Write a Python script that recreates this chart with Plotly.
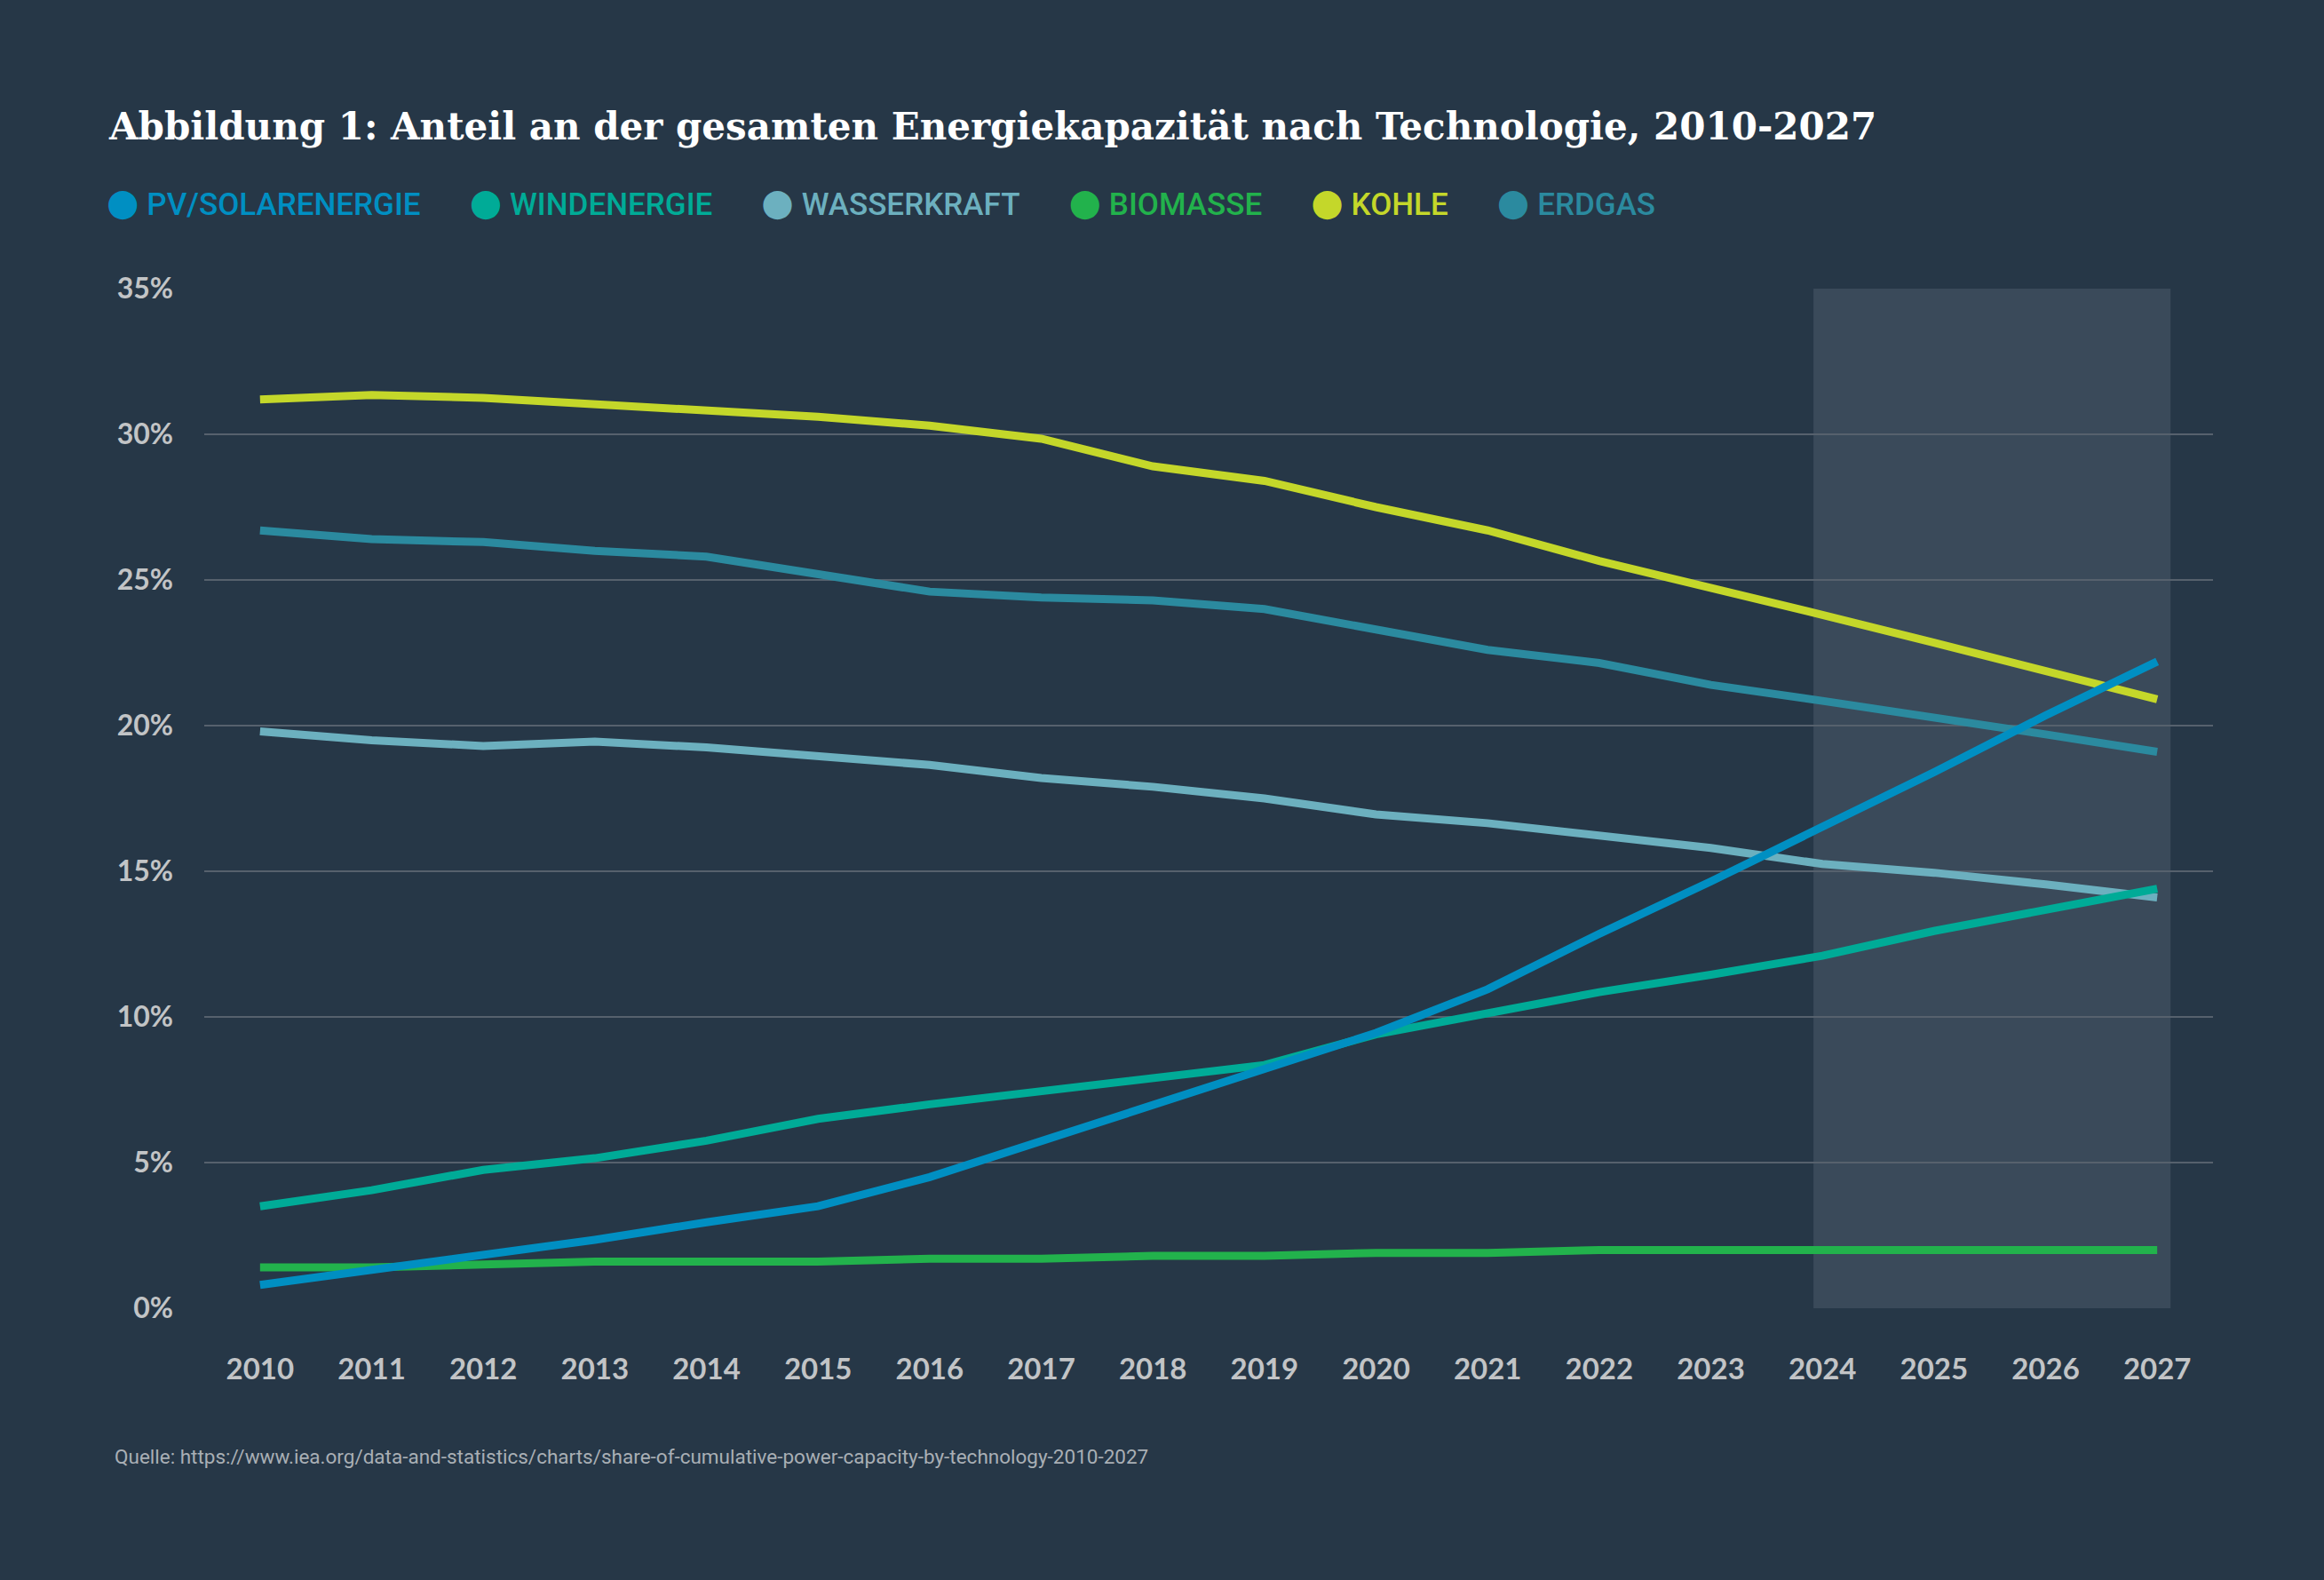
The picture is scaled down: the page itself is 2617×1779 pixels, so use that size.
import plotly.graph_objects as go

# Anteil an der gesamten Energiekapazitaet (%)
years = list(range(2010, 2028))

pv = [0.8, 1.3, 1.85, 2.35, 2.95, 3.5, 4.5, 5.75, 6.95, 8.2, 9.45, 10.95, 12.85, 14.65, 16.5, 18.4, 20.35, 22.2]
wind = [3.5, 4.05, 4.75, 5.15, 5.75, 6.5, 7.0, 7.45, 7.85, 8.35, 9.4, 10.1, 10.85, 11.45, 12.1, 12.95, 13.7, 14.4]
wasser = [19.8, 19.5, 19.3, 19.45, 19.25, 18.95, 18.65, 18.2, 17.9, 17.5, 16.95, 16.65, 16.25, 15.8, 15.25, 14.95, 14.55, 14.1]
biomasse = [1.4, 1.4, 1.5, 1.6, 1.6, 1.6, 1.7, 1.7, 1.8, 1.8, 1.9, 1.9, 2.0, 2.0, 2.0, 2.0, 2.0, 2.0]
kohle = [31.2, 31.35, 31.25, 31.05, 30.85, 30.6, 30.3, 29.85, 28.9, 28.4, 27.5, 26.7, 25.65, 24.75, 23.8, 22.85, 21.9, 20.9]
erdgas = [26.7, 26.4, 26.3, 26.0, 25.8, 25.2, 24.6, 24.4, 24.3, 24.0, 23.3, 22.6, 22.15, 21.4, 20.85, 20.3, 19.7, 19.1]

# Prognosezeitraum (grau hinterlegt)
forecast_start = 2024
forecast_end = 2027

y_ticks = [0, 5, 10, 15, 20, 25, 30, 35]
y_labels = [f"{v}%" for v in y_ticks]

BG = "#263747"
SHADE = "#3a4a5a"
GRID = "#56616d"
TICK = "#c2c4c6"
NARROW = "Roboto, sans-serif"

series = {
    "ERDGAS": (erdgas, "#2b8a9f"),
    "KOHLE": (kohle, "#c4d72a"),
    "WASSERKRAFT": (wasser, "#6cb0bf"),
    "BIOMASSE": (biomasse, "#22b24c"),
    "WINDENERGIE": (wind, "#00ab97"),
    "PV/SOLARENERGIE": (pv, "#008fc2"),
}
legend_order = ["PV/SOLARENERGIE", "WINDENERGIE", "WASSERKRAFT", "BIOMASSE", "KOHLE", "ERDGAS"]

fig = go.Figure()

for name, (vals, col) in series.items():
    fig.add_trace(go.Scatter(
        x=years, y=vals, mode="lines", name=name,
        line=dict(color=col, width=9),
        showlegend=False,
    ))

# legend entries: coloured dot + coloured label
for name in legend_order:
    col = series[name][1]
    label = (f'<span style="color:{col};font-family:DejaVu Sans;font-size:42px">\u25cf</span>'
             f'<span style="color:{col}"> {name}</span>')
    fig.add_trace(go.Scatter(
        x=[None], y=[None], mode="markers", name=label,
        marker=dict(color="rgba(0,0,0,0)", size=1),
        showlegend=True,
    ))

fig.add_shape(
    type="rect", xref="x", yref="y",
    x0=forecast_start - 0.08, x1=forecast_end + 0.12, y0=0, y1=35,
    fillcolor=SHADE, line_width=0, layer="below",
)

fig.add_annotation(
    text="Quelle: https://www.iea.org/data-and-statistics/charts/share-of-cumulative-power-capacity-by-technology-2010-2027",
    xref="paper", yref="paper", x=-0.0455, y=-0.1455,
    xanchor="left", yanchor="middle", showarrow=False,
    font=dict(family=NARROW, size=22.5, color="#a9afb5"),
)

fig.update_layout(
    width=2617, height=1779,
    paper_bgcolor=BG, plot_bgcolor=BG,
    margin=dict(l=230, r=125, t=325, b=306, pad=0, autoexpand=False),
    title=dict(
        text="Abbildung 1: Anteil an der gesamten Energiekapazität nach Technologie, 2010-2027",
        x=123 / 2617, xanchor="left", xref="container",
        y=1 - 142 / 1779, yanchor="middle", yref="container",
        font=dict(family="DejaVu Serif", size=42, color="white", weight="bold"),
    ),
    legend=dict(
        orientation="h", xref="container", yref="container",
        x=70 / 2617, xanchor="left", y=1 - 229 / 1779, yanchor="middle",
        font=dict(family=NARROW, size=35, weight=500),
        bgcolor="rgba(0,0,0,0)", itemwidth=40,
    ),
    xaxis=dict(
        range=[2009.5, 2027.5], tickmode="array", tickvals=years,
        showgrid=False, zeroline=False, showline=False, ticks="",
        tickfont=dict(family="Lato", size=33, color=TICK, weight="bold"),
        ticklabelstandoff=46,
    ),
    yaxis=dict(
        range=[0, 35], tickmode="array", tickvals=y_ticks, ticktext=y_labels,
        showgrid=True, gridcolor=GRID, gridwidth=1.5, zeroline=False,
        showline=False, ticks="",
        tickfont=dict(family="Lato", size=32, color=TICK, weight="bold"),
        ticklabelstandoff=34,
    ),
    hovermode=False,
)

fig.write_html("out.html", config={"displayModeBar": False},
               post_script="document.body.style.margin='0';")
